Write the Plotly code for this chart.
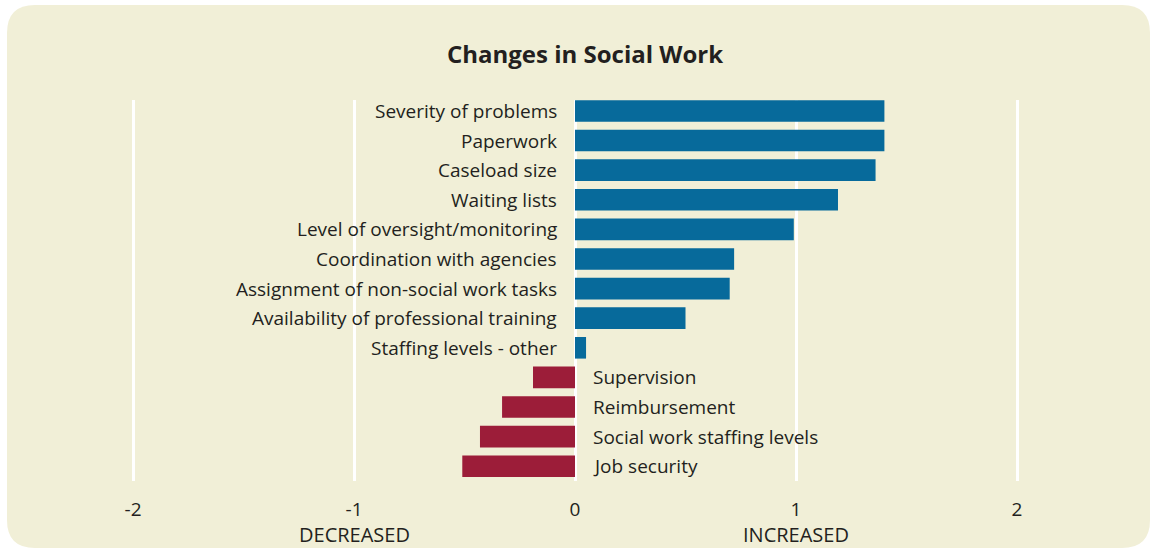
import plotly.graph_objects as go

categories = ["Severity of problems", "Paperwork", "Caseload size", "Waiting lists",
              "Level of oversight/monitoring", "Coordination with agencies",
              "Assignment of non-social work tasks", "Availability of professional training",
              "Staffing levels - other", "Supervision", "Reimbursement",
              "Social work staffing levels", "Job security"]
values = [1.40, 1.40, 1.36, 1.19, 0.99, 0.72, 0.70, 0.50, 0.05, -0.19, -0.33, -0.43, -0.51]
tick_vals = [-2, -1, 0, 1, 2]
tick_text = ["-2", "-1", "0", "1", "2"]
direction_labels = ["DECREASED", "INCREASED"]
direction_pos = [-1, 1]

BLUE = "#076a9b"
RED = "#9c1d39"
BG = "#f1efd7"
TXT = "#231f20"
FONT = "Open Sans"

W, H = 1153, 550
L, R, T, B = 20, 20, 100, 69  # plot area px: x 20..1133, y 100..481
pw, ph = W - L - R, H - T - B
X0PX, UNIT = 575, 221.0
xr = [(L - X0PX) / UNIT, (W - R - X0PX) / UNIT]

idx = list(range(len(categories)))
colors = [BLUE if v >= 0 else RED for v in values]

fig = go.Figure(go.Bar(
    x=values, y=idx, orientation="h", marker=dict(color=colors, line=dict(width=0)),
    width=0.73, hoverinfo="skip"))

for i, (c, v) in enumerate(zip(categories, values)):
    if v >= 0:
        fig.add_annotation(x=0, y=i, xref="x", yref="y", text=c, showarrow=False,
                           xanchor="right", xshift=-16, font=dict(size=19, color=TXT, family=FONT))
    else:
        fig.add_annotation(x=0, y=i, xref="x", yref="y", text=c, showarrow=False,
                           xanchor="left", xshift=16, font=dict(size=19, color=TXT, family=FONT))

for lab, pos in zip(direction_labels, direction_pos):
    fig.add_annotation(x=pos, y=(481 - 534) / ph, xref="x", yref="paper", text=lab,
                       showarrow=False, xanchor="center", yanchor="middle",
                       font=dict(size=20, color=TXT, family=FONT))

# rounded background panel in paper coordinates
def px2x(p):
    return (p - L) / pw

def py2y(p):
    return (H - B - p) / ph

x0, x1, y0, y1, r = 7, 1150, 5, 548, 28
path = (f"M {px2x(x0 + r)} {py2y(y0)} L {px2x(x1 - r)} {py2y(y0)} "
        f"Q {px2x(x1)} {py2y(y0)} {px2x(x1)} {py2y(y0 + r)} "
        f"L {px2x(x1)} {py2y(y1 - r)} Q {px2x(x1)} {py2y(y1)} {px2x(x1 - r)} {py2y(y1)} "
        f"L {px2x(x0 + r)} {py2y(y1)} Q {px2x(x0)} {py2y(y1)} {px2x(x0)} {py2y(y1 - r)} "
        f"L {px2x(x0)} {py2y(y0 + r)} Q {px2x(x0)} {py2y(y0)} {px2x(x0 + r)} {py2y(y0)} Z")
fig.add_shape(type="path", path=path, xref="paper", yref="paper",
              fillcolor=BG, line=dict(width=0), layer="below")

fig.update_layout(
    width=W, height=H, margin=dict(l=L, r=R, t=T, b=B),
    paper_bgcolor="white", plot_bgcolor="rgba(0,0,0,0)",
    showlegend=False,
    title=dict(text="<b>Changes in Social Work</b>", x=585 / W, xanchor="center",
               y=1 - 55 / H, yanchor="middle", font=dict(size=24, color=TXT, family=FONT)),
    xaxis=dict(range=xr, tickvals=tick_vals, ticktext=tick_text, showgrid=True,
               gridcolor="white", gridwidth=3, zeroline=True, zerolinecolor="white",
               zerolinewidth=3, showline=False, ticks="", ticklabelstandoff=15,
               tickfont=dict(size=19, color=TXT, family=FONT), fixedrange=True),
    yaxis=dict(range=[12.5, -0.37], showgrid=False, zeroline=False, showticklabels=False,
               ticks="", showline=False, fixedrange=True),
    font=dict(family=FONT, color=TXT),
)

fig.write_html("out.html")
